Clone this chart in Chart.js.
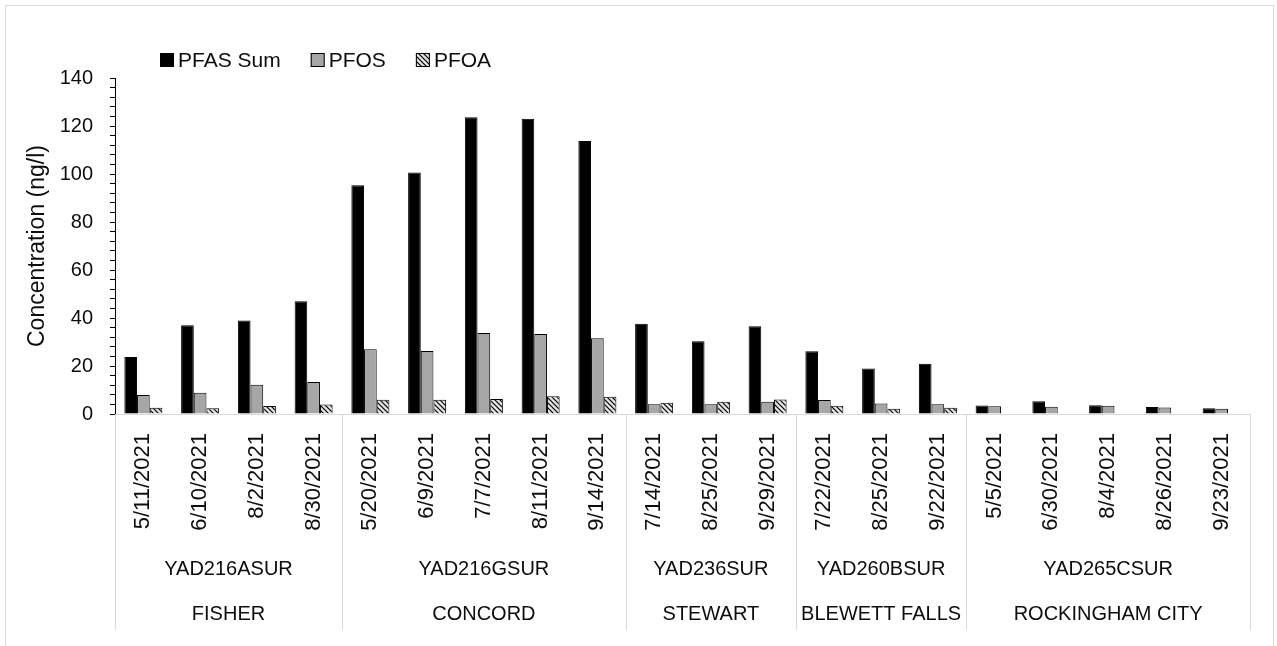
<!DOCTYPE html>
<html>
<head>
<meta charset="utf-8">
<script src="https://cdn.jsdelivr.net/npm/chart.js@4/dist/chart.umd.min.js"></script>
<style>
  html, body { margin: 0; padding: 0; background: #fff; overflow: hidden; }
  #wrap { position: relative; width: 1277px; height: 646px; }
  #frame { position: absolute; left: 5px; top: 5px; width: 1269px; height: 680px; border: 1px solid #d9d9d9; box-sizing: border-box; pointer-events: none; }
  canvas { position: absolute; left: 0; top: 0; }
</style>
</head>
<body>
<div id="wrap">
  <div id="frame"></div>
  <canvas id="pfas-chart" width="1277" height="646"></canvas>
</div>
<script>
/* ── DATA ── */
const dates = [
  '5/11/2021', '6/10/2021', '8/2/2021', '8/30/2021',
  '5/20/2021', '6/9/2021', '7/7/2021', '8/11/2021', '9/14/2021',
  '7/14/2021', '8/25/2021', '9/29/2021',
  '7/22/2021', '8/25/2021', '9/22/2021',
  '5/5/2021', '6/30/2021', '8/4/2021', '8/26/2021', '9/23/2021',
];
const stations   = ['YAD216ASUR', 'YAD216GSUR', 'YAD236SUR', 'YAD260BSUR', 'YAD265CSUR'];
const locations  = ['FISHER', 'CONCORD', 'STEWART', 'BLEWETT FALLS', 'ROCKINGHAM CITY'];
const groupSizes = [4, 5, 3, 3, 5];

const pfasSum = [23.7, 37, 39, 47, 95.3, 100.6, 123.6, 123, 113.8, 37.6, 30.3, 36.6, 26.1, 19, 20.9, 3.5, 5.3, 3.6, 2.9, 2.4];
const pfos    = [7.9, 8.9, 12.2, 13.3, 27, 26.2, 33.7, 33.3, 31.6, 4.1, 4.1, 5.1, 5.8, 4.4, 4.1, 3.2, 3.0, 3.4, 2.7, 2.2];
const pfoa    = [2.6, 2.4, 3.3, 4.0, 5.9, 5.9, 6.2, 7.4, 7.2, 4.7, 5.1, 6.0, 3.4, 2.2, 2.6, null, null, null, null, null];

const yTicks = { min: 0, max: 140, major: 20, minor: 4 };

/* ── STYLE ── */
const FONT = "'Liberation Sans', Arial, sans-serif";
const TXT = '#0d0d0d';
const GRID = '#d9d9d9';

function hatchPattern() {
  const s = 5;
  const c = document.createElement('canvas');
  c.width = s; c.height = s;
  const g = c.getContext('2d');
  g.fillStyle = '#e2e2e2';
  g.fillRect(0, 0, s, s);
  g.strokeStyle = '#000';
  g.lineWidth = 1.2;
  g.beginPath();
  g.moveTo(-1, -1); g.lineTo(s + 1, s + 1);
  g.moveTo(-1, s - 1); g.lineTo(1, s + 1);
  g.moveTo(s - 1, -1); g.lineTo(s + 1, 1);
  g.stroke();
  return g.createPattern(c, 'repeat');
}

/* ── LEGEND (drawn at top left of plot) ── */
const legendPlugin = {
  id: 'topLegend',
  afterDraw(chart) {
    const ctx = chart.ctx;
    const box = 14;
    let x = 160;
    const y = 60;
    ctx.save();
    ctx.font = '21px ' + FONT;
    ctx.textBaseline = 'middle';
    ctx.textAlign = 'left';
    chart.data.datasets.forEach(ds => {
      ctx.fillStyle = ds.backgroundColor;
      ctx.fillRect(x, y - box / 2, box, box);
      ctx.strokeStyle = '#000';
      ctx.lineWidth = 1;
      ctx.strokeRect(x + 0.5, y - box / 2 + 0.5, box - 1, box - 1);
      ctx.fillStyle = TXT;
      ctx.fillText(ds.label, x + box + 4, y + 1);
      x += box + 4 + ctx.measureText(ds.label).width + 30;
    });
    ctx.restore();
  },
};

/* ── MULTI-LEVEL CATEGORY AXIS ── */
const multiLevelPlugin = {
  id: 'multiLevel',
  afterDraw(chart) {
    const ctx = chart.ctx;
    const xs = chart.scales.x;
    const top = chart.chartArea.bottom;
    const bottom = 630;
    const w = xs.getPixelForValue(1) - xs.getPixelForValue(0);
    ctx.save();
    ctx.strokeStyle = GRID;
    ctx.lineWidth = 1;
    ctx.font = '20px ' + FONT;
    ctx.fillStyle = TXT;
    ctx.textAlign = 'center';
    ctx.textBaseline = 'middle';
    let start = 0;
    groupSizes.forEach((n, gi) => {
      const x0 = xs.getPixelForValue(start) - w / 2;
      const x1 = xs.getPixelForValue(start + n - 1) + w / 2;
      [x0, x1].forEach(px => {
        const p = Math.round(px) + 0.5;
        ctx.beginPath();
        ctx.moveTo(p, top);
        ctx.lineTo(p, bottom);
        ctx.stroke();
      });
      const cx = (x0 + x1) / 2;
      ctx.fillText(stations[gi], cx, 569);
      ctx.fillText(locations[gi], cx, 614);
      start += n;
    });
    ctx.restore();
  },
};

/* ── CHART ── */
const ctx = document.getElementById('pfas-chart');
new Chart(ctx, {
  type: 'bar',
  data: {
    labels: dates,
    datasets: [
      { label: 'PFAS Sum', data: pfasSum, backgroundColor: '#000000', borderColor: '#000000', borderWidth: 1 },
      { label: 'PFOS',     data: pfos,    backgroundColor: '#a6a6a6', borderColor: '#000000', borderWidth: 1 },
      { label: 'PFOA',     data: pfoa,    backgroundColor: hatchPattern(), borderColor: '#000000', borderWidth: 1 },
    ],
  },
  options: {
    responsive: false,
    animation: false,
    devicePixelRatio: 1,
    categoryPercentage: 0.67,
    barPercentage: 1,
    layout: { padding: { top: 78, right: 27, left: 0, bottom: 0 } },
    plugins: {
      legend: { display: false },
      tooltip: { enabled: false },
    },
    scales: {
      x: {
        grid: { display: false, drawTicks: false },
        border: { display: true, color: GRID, width: 1 },
        ticks: {
          color: TXT,
          font: { family: FONT, size: 22 },
          minRotation: 90,
          maxRotation: 90,
          autoSkip: false,
          padding: 19,
        },
        afterFit: s => { s.height = 232; },
      },
      y: {
        min: yTicks.min,
        max: yTicks.max,
        grid: { display: true, drawOnChartArea: false, drawTicks: true, tickLength: 5, color: '#000' },
        border: { display: true, color: '#000', width: 1 },
        ticks: {
          stepSize: yTicks.minor,
          autoSkip: false,
          color: TXT,
          padding: 17,
          font: { family: FONT, size: 20 },
          callback: v => (v % yTicks.major === 0 ? v : ''),
        },
        title: {
          display: true,
          text: 'Concentration (ng/l)',
          color: TXT,
          font: { family: FONT, size: 23 },
          padding: { top: 24, bottom: 0 },
        },
        afterFit: s => { s.width = 115; },
      },
    },
  },
  plugins: [legendPlugin, multiLevelPlugin],
});
</script>
</body>
</html>
